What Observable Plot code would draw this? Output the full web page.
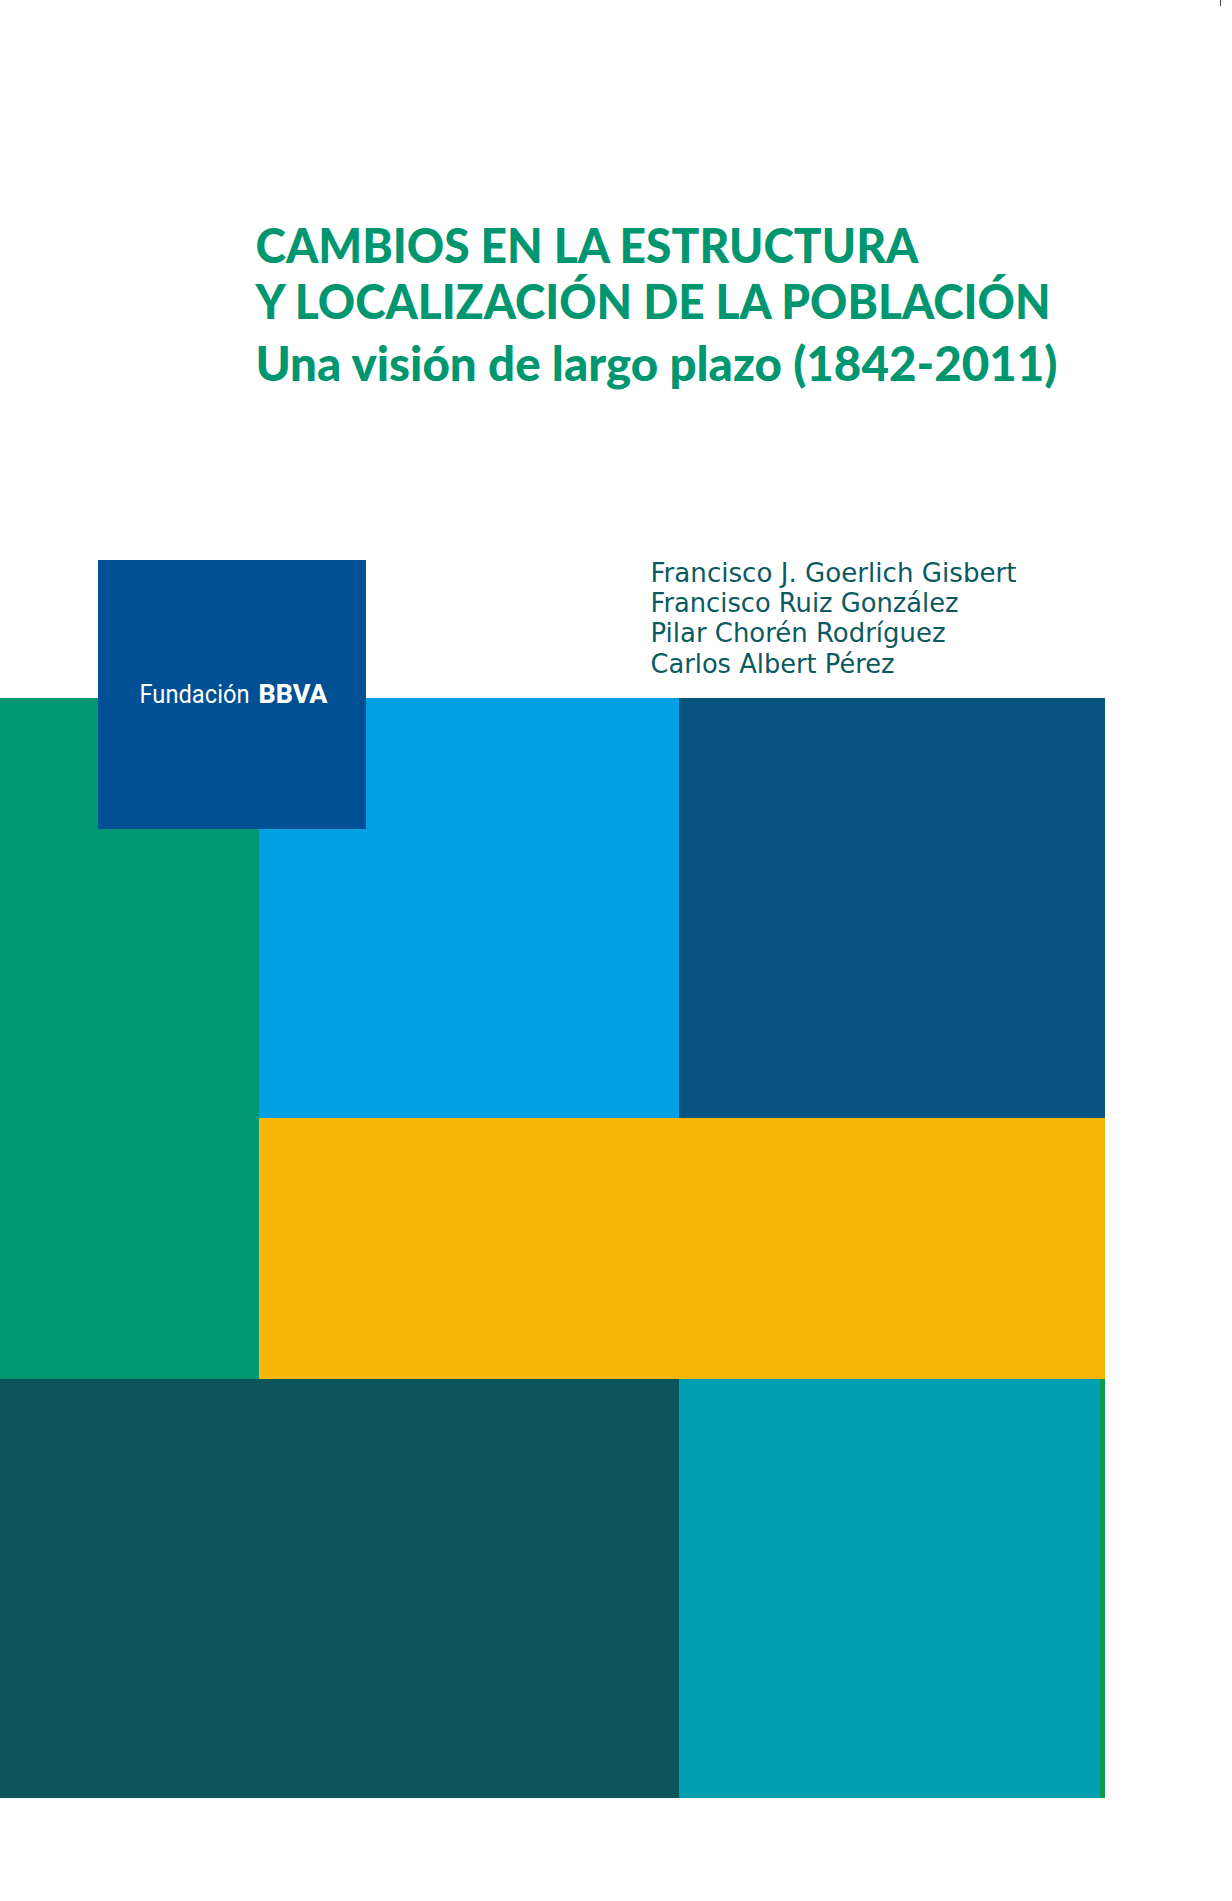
<!DOCTYPE html>
<html><head><meta charset="utf-8">
<script src="https://cdn.jsdelivr.net/npm/d3@7"></script>
<script src="https://cdn.jsdelivr.net/npm/@observablehq/plot@0.6"></script>
<style>html,body{margin:0;padding:0;background:#fff;overflow:hidden}svg{display:block}</style>
</head><body><div id="chart"></div>
<script>
// Bloques de color de la portada
const blockNames = ["verde", "azul claro", "azul oscuro", "amarillo", "petróleo", "turquesa", "filete verde"];
const blockX1 = [0, 259, 679, 259, 0, 679, 1100];
const blockX2 = [259, 679, 1105, 1105, 679, 1100, 1105];
const blockY1 = [698, 698, 698, 1118, 1379, 1379, 1379];
const blockY2 = [1379, 1118, 1118, 1379, 1798, 1798, 1798];
const blockColors = ["#009873", "#00A0E2", "#0A5482", "#F8B50A", "#0C565B", "#00A0B2", "#119A4C"];

// Logotipo
const logoText = ["Fundación", "BBVA"];

// Títulos
const titleLines = ["CAMBIOS EN LA ESTRUCTURA", "Y LOCALIZACIÓN DE LA POBLACIÓN", "Una visión de largo plazo (1842-2011)"];

// Autores
const authors = ["Francisco J. Goerlich Gisbert", "Francisco Ruiz González", "Pilar Chorén Rodríguez", "Carlos Albert Pérez"];

// ---- layout ----
const W = 1232, H = 1901;
const blocks = blockNames.map((n, i) => ({name: n, x1: blockX1[i], x2: blockX2[i], y1: blockY1[i], y2: blockY2[i], color: blockColors[i]}));
const logo = [{x1: 98, x2: 366, y1: 560, y2: 829, color: "#014F94"}];
const titleRows = titleLines.map((t, i) => ({text: t, x: 255, y: [262, 318, 380][i], len: [663, 795, 802][i]}));
const authorRows = authors.map((t, i) => ({text: t, x: 650, y: 581 + i * 30.4, len: [366, 308, 295, 244][i]}));
const logoRows = logoText.map((t, i) => ({text: t, x: [139, 258][i], y: 702, len: [110, 69][i], weight: [400, 800][i]}));

const chart = Plot.plot({
  width: W, height: H, margin: 0,
  x: {domain: [0, W], range: [0, W], axis: null},
  y: {domain: [0, H], range: [0, H], axis: null},
  color: {type: "identity"},
  marks: [
    Plot.rect(blocks, {x1: "x1", x2: "x2", y1: "y1", y2: "y2", fill: "color"}),
    Plot.rect(logo, {x1: "x1", x2: "x2", y1: "y1", y2: "y2", fill: "color"}),
    Plot.ruleX([1220], {y1: 0, y2: 6, stroke: "#444", strokeWidth: 1}),
    Plot.text(titleRows, {x: "x", y: "y", text: "text", textAnchor: "start", lineAnchor: "bottom",
      fontSize: 47, fontWeight: 900, fontFamily: "Lato", fill: "#00966F", className: "title-line"}),
    Plot.text(authorRows, {x: "x", y: "y", text: "text", textAnchor: "start", lineAnchor: "bottom",
      fontSize: 27, fontWeight: 400, fontFamily: "DejaVu Sans", fill: "#0B5A60", className: "author-line"}),
    Plot.text(logoRows, {x: "x", y: "y", text: "text", textAnchor: "start", lineAnchor: "bottom",
      fontSize: 25, fontWeight: "weight", fontFamily: "Roboto", fill: "white", className: "logo-line"})
  ]
});
document.getElementById("chart").appendChild(chart);

function fit(cls, rows) {
  d3.select(chart).selectAll("." + cls + " text").each(function(i, k) {
    const r = rows[typeof i === "number" ? i : k];
    this.setAttribute("textLength", r.len);
    this.setAttribute("lengthAdjust", "spacingAndGlyphs");
  });
}
fit("title-line", titleRows);
fit("author-line", authorRows);
fit("logo-line", logoRows);
d3.select(chart).selectAll(".logo-line text").each(function(i, k) {
  const r = logoRows[typeof i === "number" ? i : k];
  this.setAttribute("font-weight", r.weight);
});
</script>
</body></html>
